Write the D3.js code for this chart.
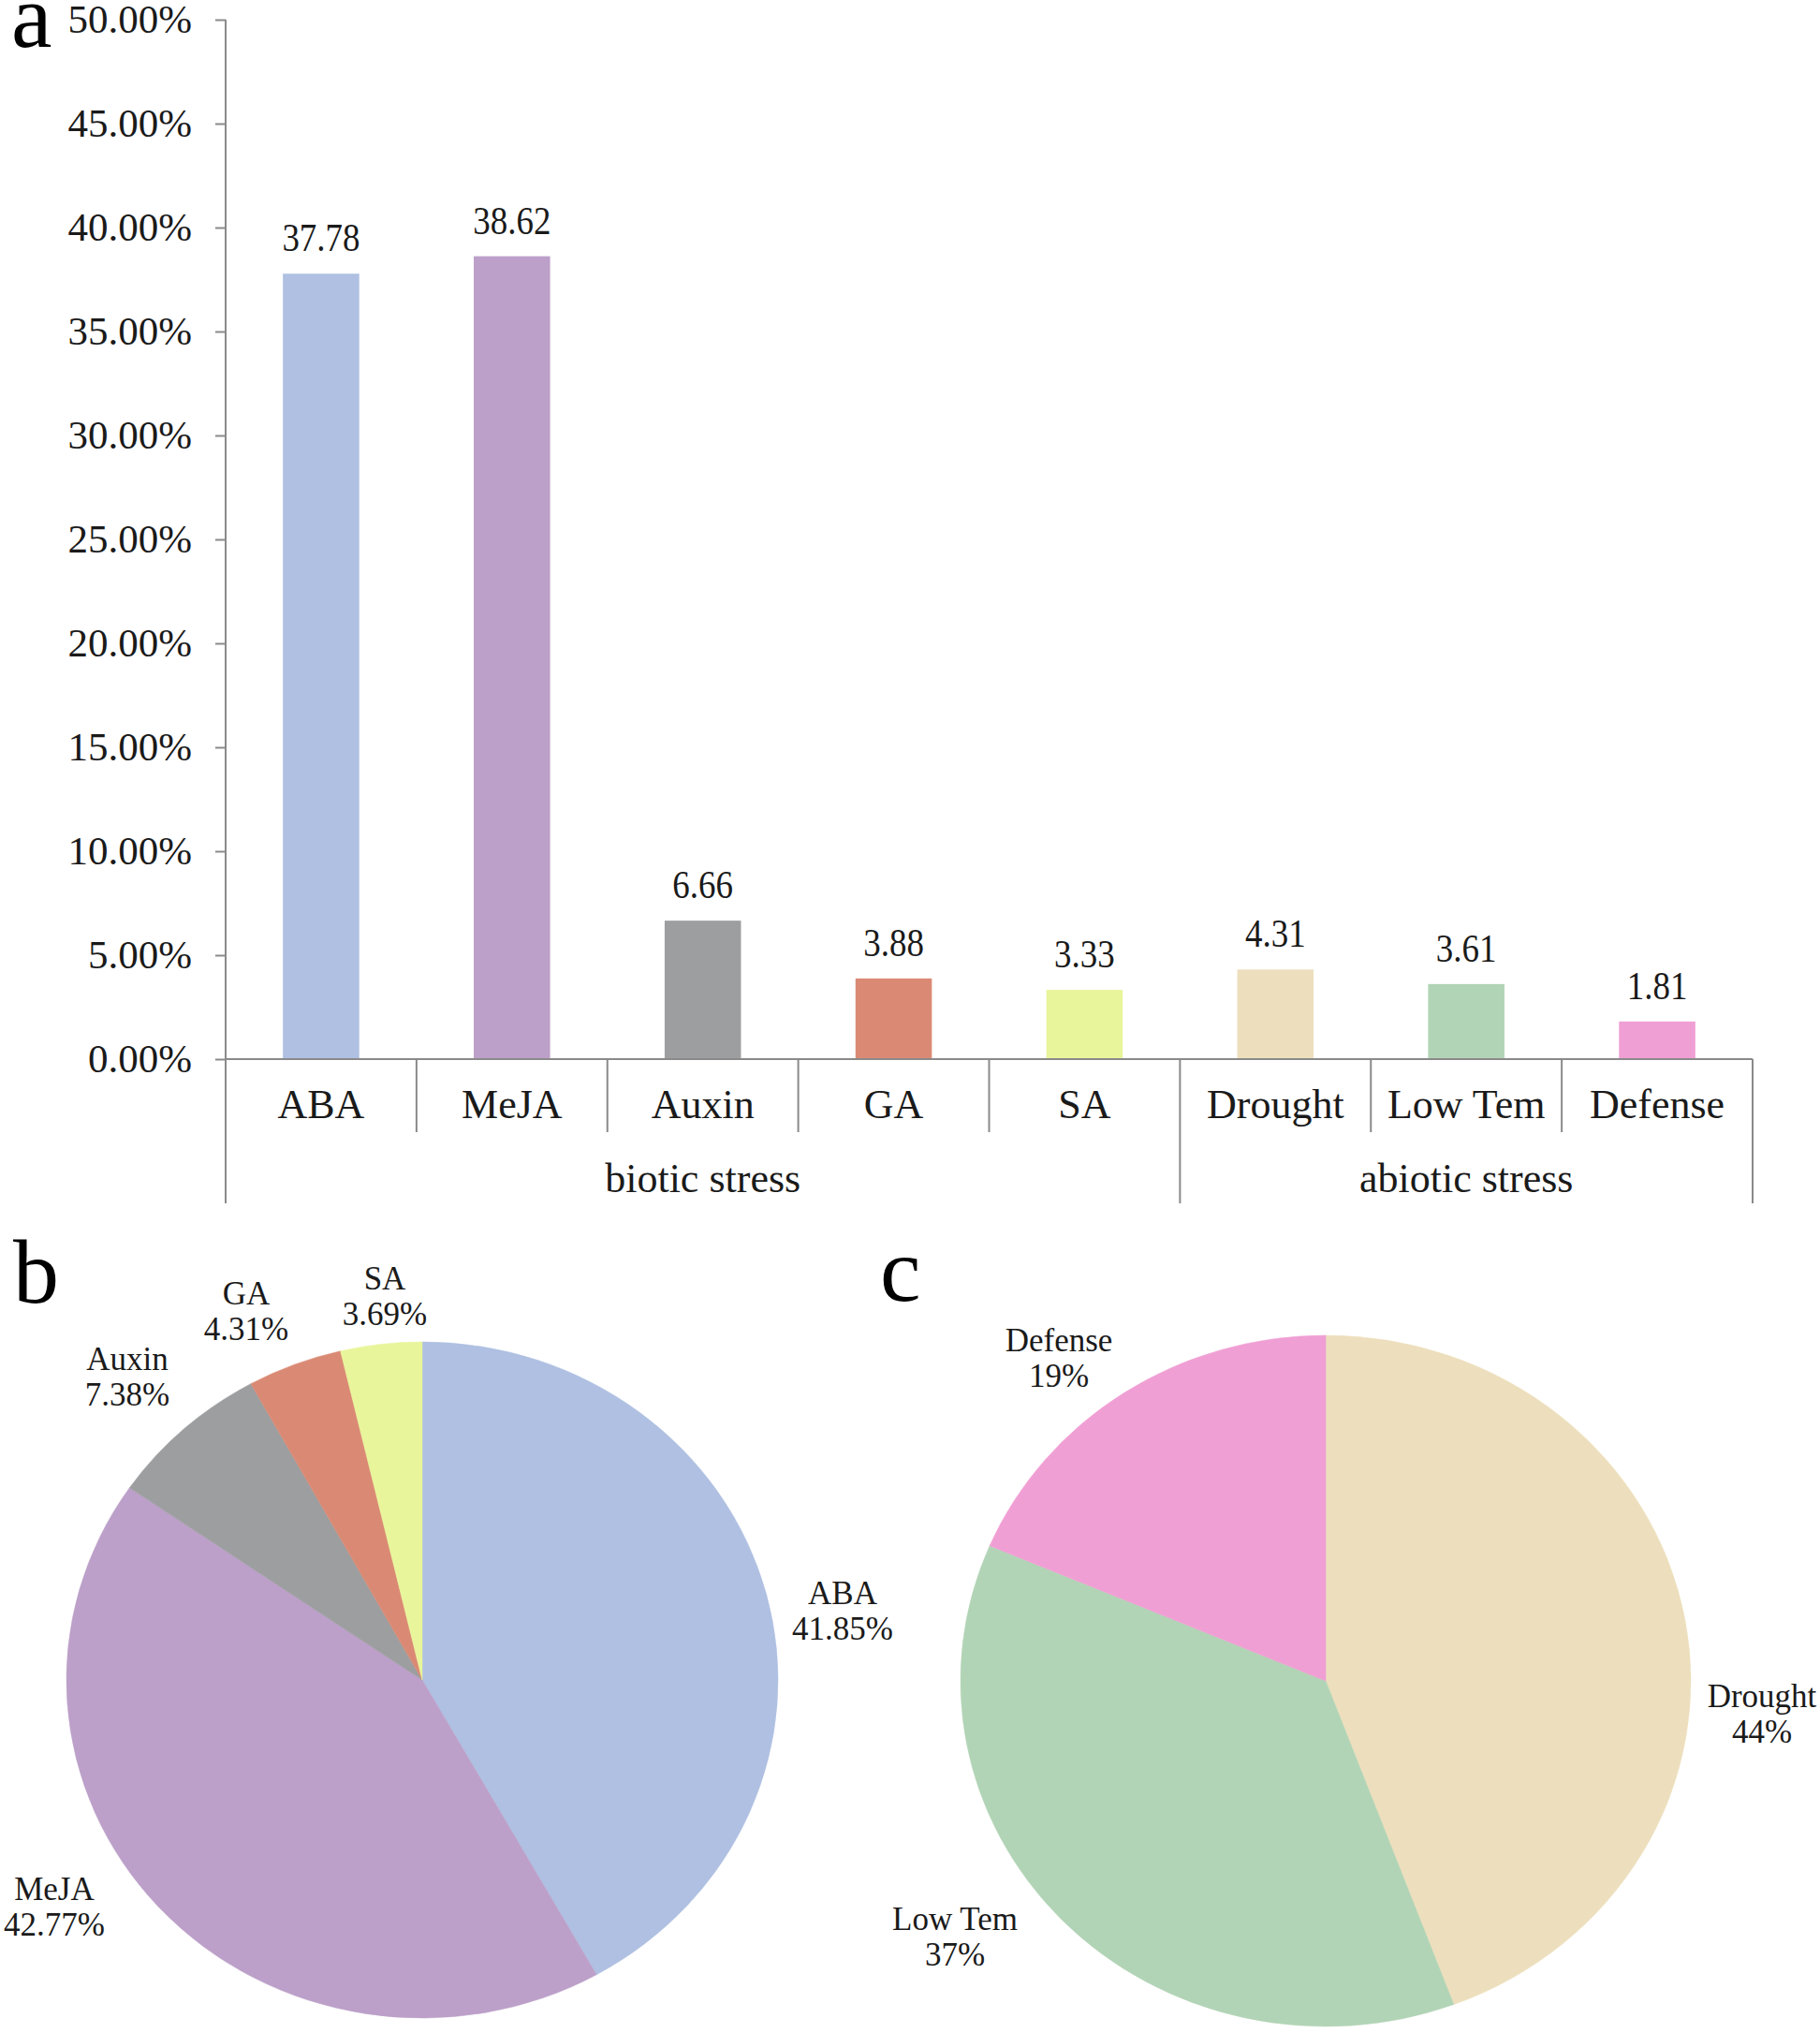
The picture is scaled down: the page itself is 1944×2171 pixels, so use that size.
<!DOCTYPE html>
<html>
<head>
<meta charset="utf-8">
<script src="https://cdn.jsdelivr.net/npm/d3@7"></script>
<style>
  html, body { margin: 0; padding: 0; background: #fff; }
  svg { display: block; }
</style>
</head>
<body>
<svg id="chart" width="1944" height="2171"></svg>
<script>
// ---------- DATA ----------
const barCategories = ["ABA", "MeJA", "Auxin", "GA", "SA", "Drought", "Low Tem", "Defense"];
const barValues = [37.78, 38.62, 6.66, 3.88, 3.33, 4.31, 3.61, 1.81];
const barLabels = ["37.78", "38.62", "6.66", "3.88", "3.33", "4.31", "3.61", "1.81"];
const groupNames = ["biotic stress", "abiotic stress"];
const groupSizes = [5, 3];
const yTicks = [0, 0.05, 0.10, 0.15, 0.20, 0.25, 0.30, 0.35, 0.40, 0.45, 0.50];

const pieBCategories = ["ABA", "MeJA", "Auxin", "GA", "SA"];
const pieBValues = [41.85, 42.77, 7.38, 4.31, 3.69];
const pieBLabels = ["41.85%", "42.77%", "7.38%", "4.31%", "3.69%"];

const pieCCategories = ["Drought", "Low Tem", "Defense"];
const pieCValues = [4.31, 3.61, 1.81];
const pieCLabels = ["44%", "37%", "19%"];

// ---------- STYLE / LAYOUT ----------
const colors = {
  "ABA": "#AFC0E2", "MeJA": "#BCA0C9", "Auxin": "#9D9EA0", "GA": "#DA8A74",
  "SA": "#E9F59B", "Drought": "#EDDFBD", "Low Tem": "#B2D4B6", "Defense": "#F09FD4"
};
const FONT = "'Liberation Serif', 'Times New Roman', serif";
const axisColor = "#8a8a8a";
const textColor = "#1a1a1a";

const svg = d3.select("#chart");

// ---------- PANEL a : bar chart ----------
const plot = { left: 241, right: 1872, top: 21, bottom: 1131 };
const x = d3.scaleBand().domain(barCategories).range([plot.left, plot.right]).padding(0);
const y = d3.scaleLinear().domain([0, 0.5]).range([plot.bottom, plot.top]);
const barW = x.bandwidth() * 0.4;

const gA = svg.append("g");

// y axis (ticks + labels)
const yAxis = d3.axisLeft(y).tickValues(yTicks).tickFormat(d3.format(".2%"))
  .tickSize(11).tickPadding(25).tickSizeOuter(0);
const yG = gA.append("g").attr("transform", `translate(${plot.left},0)`).call(yAxis);
yG.select(".domain").remove();
yG.selectAll(".tick line").attr("stroke", axisColor).attr("stroke-width", 2);
yG.selectAll(".tick text").attr("font-family", FONT).attr("font-size", 43)
  .attr("fill", textColor).attr("dy", "0.32em");

// bars
gA.selectAll("rect.bar").data(barCategories).enter().append("rect")
  .attr("class", "bar")
  .attr("x", d => x(d) + (x.bandwidth() - barW) / 2)
  .attr("width", barW)
  .attr("y", (d, i) => y(barValues[i] / 100))
  .attr("height", (d, i) => y(0) - y(barValues[i] / 100))
  .attr("fill", d => colors[d]);

// value labels
gA.selectAll("text.val").data(barCategories).enter().append("text")
  .attr("class", "val")
  .attr("transform", (d, i) => `translate(${x(d) + x.bandwidth() / 2},${y(barValues[i] / 100) - 24}) scale(0.88,1)`)
  .attr("text-anchor", "middle")
  .attr("font-family", FONT).attr("font-size", 42).attr("fill", textColor)
  .text((d, i) => barLabels[i]);

// axis lines
const groupBottom = 1285, catBottom = 1209;
gA.append("line").attr("x1", plot.left).attr("x2", plot.left)
  .attr("y1", plot.top).attr("y2", groupBottom)
  .attr("stroke", axisColor).attr("stroke-width", 2);
gA.append("line").attr("x1", plot.left).attr("x2", plot.right)
  .attr("y1", y(0)).attr("y2", y(0))
  .attr("stroke", axisColor).attr("stroke-width", 2);

// category separators
const groupEnds = [];
let acc = 0;
groupSizes.forEach(s => { acc += s; groupEnds.push(acc); });
barCategories.forEach((c, i) => {
  const xr = x(c) + x.bandwidth();
  const isGroupEnd = groupEnds.includes(i + 1);
  gA.append("line").attr("x1", xr).attr("x2", xr)
    .attr("y1", y(0)).attr("y2", isGroupEnd ? groupBottom : catBottom)
    .attr("stroke", axisColor).attr("stroke-width", 2);
});

// category labels
gA.selectAll("text.cat").data(barCategories).enter().append("text")
  .attr("class", "cat")
  .attr("x", d => x(d) + x.bandwidth() / 2)
  .attr("y", 1194)
  .attr("text-anchor", "middle")
  .attr("font-family", FONT).attr("font-size", 44).attr("fill", textColor)
  .text(d => d);

// group labels
let start = 0;
groupNames.forEach((g, gi) => {
  const first = barCategories[start];
  const last = barCategories[start + groupSizes[gi] - 1];
  const cx = (x(first) + x(last) + x.bandwidth()) / 2;
  gA.append("text").attr("x", cx).attr("y", 1273)
    .attr("text-anchor", "middle")
    .attr("font-family", FONT).attr("font-size", 44).attr("fill", textColor)
    .text(g);
  start += groupSizes[gi];
});

// panel letters
function panelLetter(t, px, py) {
  svg.append("text").attr("x", px).attr("y", py)
    .attr("font-family", FONT).attr("font-size", 98).attr("fill", "#000").text(t);
}
panelLetter("a", 12, 50);
panelLetter("b", 14, 1391);
panelLetter("c", 940, 1389);

// ---------- PIES ----------
function drawPie(cats, vals, labels, cfg) {
  const g = svg.append("g");
  const pie = d3.pie().sort(null).value(d => d.v);
  const arcs = pie(cats.map((c, i) => ({ c, v: vals[i], l: labels[i] })));
  const arc = d3.arc().innerRadius(0).outerRadius(cfg.ry);
  g.append("g")
    .attr("transform", `translate(${cfg.cx},${cfg.cy}) scale(${cfg.rx / cfg.ry},1)`)
    .selectAll("path").data(arcs).enter().append("path")
    .attr("d", arc)
    .attr("fill", d => colors[d.data.c])
    .attr("stroke", d => colors[d.data.c]).attr("stroke-width", 0.5);
  arcs.forEach(a => {
    const p = cfg.labelPos[a.data.c];
    const t = g.append("text").attr("text-anchor", "middle")
      .attr("font-family", FONT).attr("font-size", 35).attr("fill", textColor);
    t.append("tspan").attr("x", p[0]).attr("y", p[1]).text(a.data.c);
    t.append("tspan").attr("x", p[0]).attr("y", p[1] + 38).text(a.data.l);
  });
}

drawPie(pieBCategories, pieBValues, pieBLabels, {
  cx: 451, cy: 1794, rx: 380, ry: 361,
  labelPos: { "ABA": [900, 1713], "MeJA": [58, 2029], "Auxin": [136, 1463],
              "GA": [263, 1393], "SA": [411, 1377] }
});

drawPie(pieCCategories, pieCValues, pieCLabels, {
  cx: 1416, cy: 1795, rx: 390, ry: 369,
  labelPos: { "Drought": [1882, 1823], "Low Tem": [1020, 2061], "Defense": [1131, 1443] }
});
</script>
</body>
</html>
